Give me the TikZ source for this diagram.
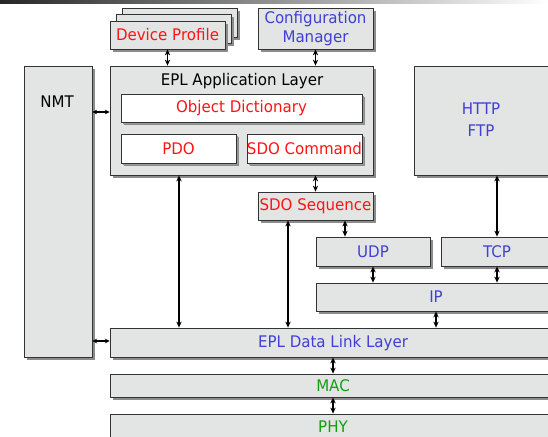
\documentclass[tikz,border=0pt]{standalone}
\usepackage{fontspec}
\setmainfont{DejaVu Sans}[FakeStretch=0.94]
\usetikzlibrary{arrows.meta,shadows,fit}
\definecolor{boxgray}{HTML}{E3E4E4}
\definecolor{txtred}{HTML}{FF1414}
\definecolor{txtblue}{HTML}{4040D4}
\definecolor{txtgreen}{HTML}{12A012}
\begin{document}
\begin{tikzpicture}[x=0.75pt,y=-0.75pt,
  layer/.style={draw=black!80, line width=0.6pt, fill=boxgray, inner sep=0pt,
    drop shadow={shadow xshift=2pt, shadow yshift=-2pt, fill=black!45, opacity=1}},
  inner/.style={layer, fill=white,
    drop shadow={shadow xshift=1.2pt, shadow yshift=-1.2pt, fill=black!40, opacity=1}},
  lbl/.style={inner sep=0pt, align=center, font=\fontsize{12}{16.5}\selectfont},
  link/.style={line width=1pt, {Stealth[length=4.5pt,width=4pt]}-{Stealth[length=4.5pt,width=4pt]}},
  slink/.style={line width=0.9pt, {Stealth[length=3.5pt,width=3.5pt]}-{Stealth[length=3.5pt,width=3.5pt]}}
]
\useasboundingbox (0,0) rectangle (548,436);
\clip (0,0) rectangle (548,436);

% header strip
\shade[left color=black!85, right color=white] (0,0) rectangle (548,3.5);

% device profile stack and configuration manager
\node[layer, fit={(122,8) (237,37)}] (dp3) {};
\node[layer, fit={(116,14) (231,43)}] (dp2) {};
\node[layer, fit={(110,21) (225,49)}] (dp) {};
\node[lbl, text=txtred] (dplbl) at (dp.center) {Device Profile};
\node[layer, fit={(258,8) (373,49)}] (cm) {};
\node[lbl, text=txtblue, font=\fontsize{12}{14.3}\selectfont] (cmlbl) at (cm.center) {Configuration\\Manager};

% NMT and application layer
\node[layer, fit={(24,66) (92,357)}] (nmt) {};
\node[lbl] (nmtlbl) at (57,102) {NMT};
\node[layer, fit={(110,66) (373,175)}] (app) {};
\node[lbl] (applbl) at (242,81) {EPL Application Layer};
\node[inner, fit={(121,94) (362,122)}] (od) {};
\node[lbl, text=txtred] (odlbl) at (od.center) {Object Dictionary};
\node[inner, fit={(121,134) (236,163)}] (pdo) {};
\node[lbl, text=txtred] (pdolbl) at (pdo.center) {PDO};
\node[inner, fit={(247,134) (362,163)}] (sdoc) {};
\node[lbl, text=txtred] (sdoclbl) at (sdoc.center) {SDO Command};

\node[layer, fit={(414,66) (560,175)}] (http) {};
\node[lbl, text=txtblue] (httplbl) at (481,120) {HTTP\\FTP};

% transport stack
\node[layer, fit={(258,192) (373,220)}] (seq) {};
\node[lbl, text=txtred] (seqlbl) at (seq.center) {SDO Sequence};
\node[layer, fit={(316,237) (430,266)}] (udp) {};
\node[lbl, text=txtblue] (udplbl) at (udp.center) {UDP};
\node[layer, fit={(441,237) (560,266)}] (tcp) {};
\node[lbl, text=txtblue] (tcplbl) at (497,251.5) {TCP};
\node[layer, fit={(316,283) (560,311)}] (ip) {};
\node[lbl, text=txtblue] (iplbl) at (436,297) {IP};

% lower layers
\node[layer, fit={(110,328) (560,357)}] (dll) {};
\node[layer, fit={(110,374) (560,397)}] (mac) {};
\node[layer, fit={(110,414) (560,445)}] (phy) {};
\node[lbl, text=txtblue] (dlllbl) at (333,343) {EPL Data Link Layer};
\node[lbl, text=txtgreen] (maclbl) at (333,386) {MAC};
\node[lbl, text=txtgreen] (phylbl) at (333,427) {PHY};

% connector columns
\coordinate (xpdo) at (179,0);
\coordinate (xseq) at (288,0);
\coordinate (xudp) at (345,0);
\coordinate (xudpip) at (373,0);
\coordinate (xtcp) at (497,0);
\coordinate (xip) at (436,0);
\coordinate (xlow) at (333,0);
\coordinate (ytop) at (0,112);
\coordinate (ybot) at (0,341);

\draw[link] (dp.south) -- (app.north -| dp.south);
\draw[link] (cm.south) -- (app.north -| cm.south);
\draw[slink] (nmt.east |- ytop) -- (app.west |- ytop);
\draw[slink] (nmt.east |- ybot) -- (dll.west |- ybot);
\draw[link] (app.south -| xpdo) -- (dll.north -| xpdo);
\draw[link] (app.south -| seq.north) -- (seq.north);
\draw[link] (seq.south -| xseq) -- (dll.north -| xseq);
\draw[link] (seq.south -| xudp) -- (udp.north -| xudp);
\draw[link] (http.south -| xtcp) -- (tcp.north -| xtcp);
\draw[link] (udp.south -| xudpip) -- (ip.north -| xudpip);
\draw[link] (tcp.south -| xtcp) -- (ip.north -| xtcp);
\draw[link] (ip.south -| xip) -- (dll.north -| xip);
\draw[link] (dll.south -| xlow) -- (mac.north -| xlow);
\draw[link] (mac.south -| xlow) -- (phy.north -| xlow);
\end{tikzpicture}
\end{document}
